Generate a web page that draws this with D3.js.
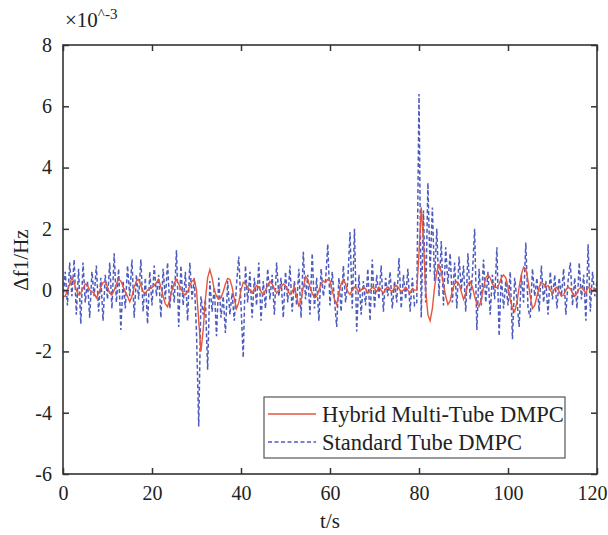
<!DOCTYPE html>
<html>
<head>
<meta charset="utf-8">
<script src="https://cdn.jsdelivr.net/npm/d3@7"></script>
<style>
  body { margin: 0; background: #fff; }
  svg text { font-family: "Liberation Serif", "Times New Roman", serif; fill: #222; }
</style>
</head>
<body>
<div id="chart"></div>
<script>
// sample spacing of both series (seconds)
var timeStep = 0.5;

// Hybrid Multi-Tube DMPC, x10^-3 Hz, one value every 0.5 s from t = 0 to 120
var hybridValues = [
  -0.2, -0.2, 0.0, 0.2, 0.4, 0.25, 0.0, -0.15, -0.1, 0.05,
  0.2, 0.15, 0.0, -0.05, -0.1, -0.25, -0.1, 0.1, 0.25, 0.28,
  0.1, -0.1, -0.15, 0.0, 0.2, 0.35, 0.3, 0.1, -0.05, -0.2,
  -0.38, -0.2, 0.1, 0.3, 0.35, 0.15, -0.05, -0.1, 0.0, 0.05,
  0.08, 0.15, 0.25, 0.35, 0.1, -0.2, -0.45, -0.54, -0.3, 0.0,
  0.25, 0.35, 0.2, 0.05, -0.1, -0.15, -0.05, 0.15, 0.3, 0.35,
  0.0, -1.0, -2.0, -1.3, -0.3, 0.4, 0.67, 0.4, 0.0, -0.2,
  -0.3, -0.25, -0.05, 0.2, 0.38, 0.35, 0.1, -0.3, -0.6, -0.4,
  0.0, 0.25, 0.2, 0.1, 0.0, -0.1, 0.05, 0.15, 0.1, -0.05,
  -0.15, 0.0, 0.15, 0.28, 0.2, 0.05, -0.1, 0.0, 0.1, 0.2,
  0.15, 0.0, -0.15, -0.05, 0.1, -0.2, -0.54, -0.3, 0.1, 0.45,
  0.35, 0.1, -0.1, -0.25, -0.2, 0.0, 0.2, 0.3, 0.25, 0.35,
  0.3, 0.0, -0.3, -0.47, -0.1, 0.2, 0.35, 0.2, -0.05, -0.14,
  0.0, 0.1, 0.05, -0.05, 0.0, 0.1, 0.05, -0.1, 0.0, 0.1,
  0.05, -0.05, 0.1, 0.0, -0.1, 0.05, 0.1, 0.0, -0.05, 0.1,
  0.15, 0.05, -0.05, 0.0, 0.1, 0.0, -0.1, 0.05, 0.0, 0.0,
  1.2, 2.7, 1.6, 0.0, -0.8, -1.0, -0.6, 0.1, 0.6, 0.83,
  0.6, 0.2, -0.2, -0.47, -0.35, 0.0, 0.2, 0.28, 0.2, -0.05,
  -0.3, -0.1, 0.2, 0.28, 0.1, -0.2, -0.45, -0.53, -0.3, 0.1,
  0.4, 0.5, 0.4, 0.2, 0.1, 0.08, 0.2, 0.4, 0.5, 0.4,
  0.1, -0.3, -0.6, -0.7, -0.4, 0.1, 0.5, 0.75, 0.7, 0.3,
  -0.2, -0.6, -0.5, -0.2, 0.1, 0.25, 0.2, 0.1, 0.15, 0.0,
  -0.1, 0.05, 0.1, -0.05, -0.2, -0.15, 0.0, 0.1, 0.05, -0.1,
  -0.2, -0.1, 0.05, 0.1, 0.0, -0.1, 0.1, 0.05, -0.05, 0.05,
  0.0
];

// Standard Tube DMPC, same sampling
var standardValues = [
  -0.3, 0.6, -0.5, 0.9, -0.2, 1.0, -0.8, 0.7, -1.1, 0.9,
  -0.4, 0.3, -0.9, 0.6, -0.2, 0.8, -0.7, 0.4, -1.0, 0.5,
  -0.3, 0.9, -0.6, 1.2, -0.4, 0.7, -1.3, 0.3, -0.6, 0.8,
  -0.2, 1.0, -0.9, 0.5, -0.3, 1.0, -0.7, 0.4, -1.1, 0.6,
  -0.5, 0.8, -0.2, 0.5, -0.9, 0.7, -0.3, 0.9, -0.6, 0.3,
  -0.4, 1.3, -1.2, 0.8, -0.5, 0.6, -1.0, 0.9, -0.3, 0.4,
  -1.4, -4.45, -0.2, -0.8, -0.3, -2.6, 0.3, -0.7, 0.1, -1.5,
  0.4, -0.9, -0.2, -1.4, 0.3, -0.8, -0.1, -1.0, 0.2, 1.1,
  -0.5, -2.2, 0.8, -0.4, 0.6, -0.9, 0.4, -0.5, 0.9, -1.0,
  0.3, -0.6, 0.7, -0.3, 0.5, -0.8, 0.9, -0.2, 0.4, -0.9,
  0.6, -0.4, 0.8, -0.7, 0.3, -0.5, 0.7, -0.9, 1.25, -0.3,
  0.5, -0.8, 1.2, -0.6, 0.4, -1.0, 0.7, -0.2, 0.3, 1.5,
  -0.5, 0.6, -0.3, -1.2, 0.4, -0.7, 0.8, -0.4, 0.3, 1.9,
  -0.6, 2.0, -1.35, 0.5, -0.8, 0.3, -0.5, 0.7, -1.0, 1.0,
  -0.6, 0.5, -0.3, 0.8, -0.7, 0.4, -0.2, 0.6, -0.6, 0.3,
  -0.4, 1.05, -0.6, 0.5, -0.3, 0.7, -0.7, 0.4, -0.5, -0.4,
  6.4, -0.9, 2.6, -0.4, 3.5, 0.6, 2.7, 0.3, 2.0, -0.2,
  1.6, -0.5, 1.4, 0.2, 1.2, -0.4, 0.9, -0.6, 1.1, 0.0,
  0.8, -0.7, 1.2, -0.3, 0.5, 2.0, -1.3, 0.7, -0.5, 1.0,
  -0.4, 0.6, -0.8, 0.5, -0.3, 1.4, -1.5, 0.5, -0.6, 0.3,
  -0.5, 0.6, -1.6, 0.4, -0.3, -1.2, 0.5, -0.4, 1.55, -0.6,
  -0.9, 0.7, -0.2, 0.4, -0.7, 0.8, -0.4, 0.3, -0.8, 0.6,
  -0.3, 0.5, -0.6, 0.4, -0.2, 0.7, -0.8, 0.3, 0.9, -0.5,
  0.4, -0.6, 0.9, -0.3, 0.5, -1.0, 1.5, -0.7, 0.6, -0.2,
  0.3
];

var xTicks = [0, 20, 40, 60, 80, 100, 120];
var yTicks = [-6, -4, -2, 0, 2, 4, 6, 8];
var seriesNames = ['Hybrid Multi-Tube DMPC', 'Standard Tube DMPC'];

var W = 608, H = 535;
var margin = { top: 45, right: 11, bottom: 61, left: 63 };
var width = W - margin.left - margin.right,
    height = H - margin.top - margin.bottom;

var x = d3.scaleLinear().domain([0, 120]).range([0, width]);
var y = d3.scaleLinear().domain([-6, 8]).range([height, 0]);

var redColor = '#e5563e',
    blueColor = '#4d5bbd',
    blueDash = '4,2.5',
    axisColor = '#333';

var svg = d3.select('#chart').append('svg')
    .attr('width', W)
    .attr('height', H);

var g = svg.append('g')
    .attr('transform', 'translate(' + margin.left + ',' + margin.top + ')');

// pair every value with its time
function toPoints(values) {
  return values.map(function (v, i) { return { t: i * timeStep, v: v }; });
}

var line = d3.line()
    .x(function (d) { return x(d.t); })
    .y(function (d) { return y(d.v); });

g.append('clipPath').attr('id', 'plot-clip')
  .append('rect').attr('width', width).attr('height', height);

var series = g.append('g').attr('clip-path', 'url(#plot-clip)');

series.append('path')
    .attr('d', line(toPoints(standardValues)))
    .attr('fill', 'none')
    .attr('stroke', blueColor)
    .attr('stroke-width', 1.5)
    .attr('stroke-dasharray', blueDash);

series.append('path')
    .attr('d', line(toPoints(hybridValues)))
    .attr('fill', 'none')
    .attr('stroke', redColor)
    .attr('stroke-width', 1.4);

// axes: ticks point inward on all four sides, plain hyphen for negatives
var tickLen = 6;
var plainFormat = function (d) { return String(d); };

var axisBottomG = g.append('g')
    .attr('transform', 'translate(0,' + height + ')')
    .call(d3.axisBottom(x).tickValues(xTicks).tickFormat(plainFormat)
      .tickSizeInner(-tickLen).tickSizeOuter(0).tickPadding(12));
var axisTopG = g.append('g')
    .call(d3.axisTop(x).tickValues(xTicks).tickSizeInner(-tickLen).tickSizeOuter(0).tickFormat(''));
var axisLeftG = g.append('g')
    .call(d3.axisLeft(y).tickValues(yTicks).tickFormat(plainFormat)
      .tickSizeInner(-tickLen).tickSizeOuter(0).tickPadding(11));
var axisRightG = g.append('g')
    .attr('transform', 'translate(' + width + ',0)')
    .call(d3.axisRight(y).tickValues(yTicks).tickSizeInner(-tickLen).tickSizeOuter(0).tickFormat(''));

[axisBottomG, axisTopG, axisLeftG, axisRightG].forEach(function (a) {
  a.select('.domain').remove();
  a.selectAll('line').attr('stroke', axisColor).attr('stroke-width', 1.5);
  a.selectAll('text')
    .style('font-family', '"Liberation Serif", serif')
    .style('font-size', '20px')
    .attr('fill', '#222');
});

// keep the last x label inside the page
axisBottomG.selectAll('.tick text')
    .filter(function (d) { return d === 120; })
    .attr('dx', -5);

// plot frame
g.append('rect')
    .attr('width', width)
    .attr('height', height)
    .attr('fill', 'none')
    .attr('stroke', axisColor)
    .attr('stroke-width', 1.6);

// exponent label
var expo = svg.append('text')
    .attr('x', margin.left + 2)
    .attr('y', 27)
    .style('font-size', '21px')
    .text('×10');
expo.append('tspan')
    .attr('dy', -8)
    .style('font-size', '15px')
    .text('^-3');

// axis titles
svg.append('text')
    .attr('x', margin.left + width / 2)
    .attr('y', 528)
    .attr('text-anchor', 'middle')
    .style('font-size', '21px')
    .text('t/s');

svg.append('text')
    .attr('transform', 'translate(28,260) rotate(-90)')
    .attr('text-anchor', 'middle')
    .style('font-size', '21px')
    .text('Δf1/Hz');

// legend
var legend = svg.append('g').attr('transform', 'translate(264,397)');
legend.append('rect')
    .attr('width', 301)
    .attr('height', 61)
    .attr('fill', '#fff')
    .attr('stroke', '#555')
    .attr('stroke-width', 1.2);

var legendRows = [
  { name: seriesNames[0], color: redColor, dash: null },
  { name: seriesNames[1], color: blueColor, dash: blueDash }
];
legendRows.forEach(function (row, idx) {
  var yy = 17 + idx * 28;
  legend.append('line')
      .attr('x1', 4).attr('x2', 52)
      .attr('y1', yy).attr('y2', yy)
      .attr('stroke', row.color)
      .attr('stroke-width', 1.3)
      .attr('stroke-dasharray', row.dash);
  legend.append('text')
      .attr('x', 58)
      .attr('y', yy + 8)
      .style('font-size', '22.5px')
      .text(row.name);
});
</script>
</body>
</html>
